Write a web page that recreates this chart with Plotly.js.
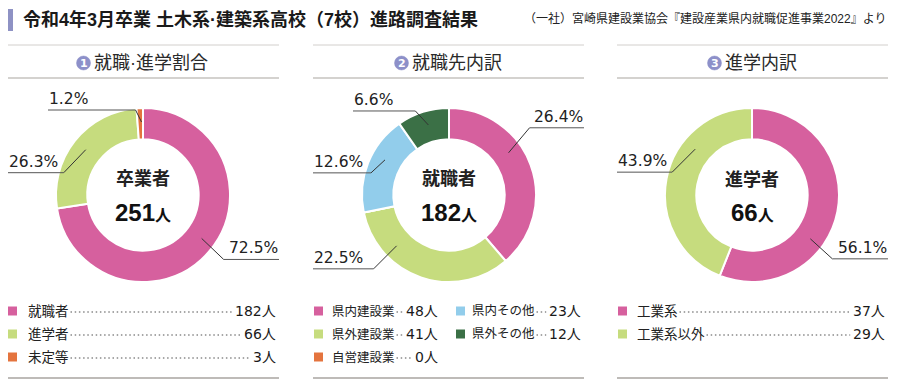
<!DOCTYPE html>
<html><head><meta charset="utf-8">
<script src="https://cdn.plot.ly/plotly-3.0.1.min.js"></script>
<style>html,body{margin:0;padding:0;background:#fff}#chart{width:900px;height:391px}</style>
</head><body><div id="chart"></div>
<script>
// ---- data ----
const mainTitle = '令和4年3月卒業 土木系·建築系高校（7校）進路調査結果';
const sourceNote = '（一社）宮崎県建設業協会『建設産業県内就職促進事業2022』より';
const panelTitles = ['就職·進学割合', '就職先内訳', '進学内訳'];
const panelNums = ['1', '2', '3'];
const centerTitles = ['卒業者', '就職者', '進学者'];
const centerTotals = [251, 182, 66];

const chart1Labels = ['就職者', '進学者', '未定等'];
const chart1Values = [182, 66, 3];
const chart1Pct = ['72.5%', '26.3%', '1.2%'];

const chart2Labels = ['県内建設業', '県外建設業', '自営建設業', '県内その他', '県外その他'];
const chart2Values = [48, 41, 0, 23, 12];
const chart2Pct = ['26.4%', '22.5%', '', '12.6%', '6.6%'];

const chart3Labels = ['工業系', '工業系以外'];
const chart3Values = [37, 29];
const chart3Pct = ['56.1%', '43.9%'];

// ---- styles / layout config ----
const PINK = '#d6609e', GREEN = '#c6dc7e', ORANGE = '#e4743e', LBLUE = '#92cdeb', DGREEN = '#3b7046';
const colors = [[PINK, GREEN, ORANGE], [PINK, GREEN, ORANGE, LBLUE, DGREEN], [PINK, GREEN]];
const FONT = "'Liberation Sans', 'Noto Sans CJK JP', sans-serif";
const NUMFONT = "'DejaVu Sans', 'Noto Sans CJK JP', sans-serif";
const W = 900, H = 391;
const fx = x => x / W, fy = y => 1 - y / H;

const panels = [{l: 8, r: 279, cx: 143, mark: 83.5}, {l: 313, r: 584, cx: 449, mark: 401.5}, {l: 617, r: 888, cx: 752, mark: 714.5}];
const CY = 195, R = 87, HOLE = 0.64, RS = 73, MR = 7;
const leaders = [
  [{nudge: -4, dx: 22, dy: 21, side: 'r'}, {nudge: 0, dx: -22, dy: 23, side: 'l'}, {nudge: 1, dx: -6, dy: -12, side: 'l', end: 48}],
  [{nudge: -15, dx: 21, dy: -25, side: 'r'}, {nudge: 27, dx: -23, dy: 23, side: 'l'}, null, {nudge: 7, dx: -14, dy: 13, side: 'l'}, {nudge: 1, dx: -13, dy: -14, side: 'l', end: 353}],
  [{nudge: 26, dx: 22, dy: 20, side: 'r'}, {nudge: 28, dx: -23, dy: 23, side: 'l'}]
];
const legendCfg = [
  {cols: [{sq: 8, tx: 26, vr: 278}], perCol: 3, fs: 13.5},
  {cols: [{sq: 314, tx: 330, vr: 440}, {sq: 456, tx: 470, vr: 583}], perCol: 3, fs: 12.5},
  {cols: [{sq: 618, tx: 635, vr: 887}], perCol: 3, fs: 13.5}
];
const legendRows = [311, 334, 357];
const VFS = 14;

const labelsAll = [chart1Labels, chart2Labels, chart3Labels];
const valuesAll = [chart1Values, chart2Values, chart3Values];
const pctAll = [chart1Pct, chart2Pct, chart3Pct];

const data = [], shapes = [], annotations = [];

// header
shapes.push({type: 'rect', xref: 'paper', yref: 'paper', x0: fx(8), x1: fx(13), y0: fy(9), y1: fy(31), fillcolor: '#8e92c4', line: {width: 0}});
annotations.push({xref: 'paper', yref: 'paper', x: fx(21), y: fy(20), xanchor: 'left', yanchor: 'middle', showarrow: false,
  text: '<b>' + mainTitle + '</b>', font: {family: FONT, size: 18, color: '#1a1a1a'}});
annotations.push({xref: 'paper', yref: 'paper', x: fx(888), y: fy(19), xanchor: 'right', yanchor: 'middle', showarrow: false,
  text: sourceNote, font: {family: FONT, size: 12, color: '#222'}});

panels.forEach((p, k) => {
  const labels = labelsAll[k], values = valuesAll[k], pct = pctAll[k];
  // pie
  data.push({
    type: 'pie', labels: labels, values: values, hole: HOLE, sort: false, direction: 'clockwise', rotation: 0,
    marker: {colors: colors[k], line: {color: '#fff', width: 2}},
    textinfo: 'none', hoverinfo: 'none', showlegend: false,
    domain: {x: [fx(p.cx - R), fx(p.cx + R)], y: [fy(CY + R), fy(CY - R)]}
  });
  // panel rules
  shapes.push({type: 'line', xref: 'paper', yref: 'paper', x0: fx(p.l), x1: fx(p.r), y0: fy(45), y1: fy(45), line: {color: '#d2cfcc', width: 1}});
  shapes.push({type: 'line', xref: 'paper', yref: 'paper', x0: fx(p.l), x1: fx(p.r), y0: fy(78), y1: fy(78), line: {color: '#a9a5a0', width: 1.2}});
  shapes.push({type: 'line', xref: 'paper', yref: 'paper', x0: fx(p.l), x1: fx(p.r), y0: fy(378), y1: fy(378), line: {color: '#a9a5a0', width: 1.5}});
  // panel title: circled number + text
  shapes.push({type: 'circle', xref: 'paper', yref: 'paper', x0: fx(p.mark - MR), x1: fx(p.mark + MR), y0: fy(63 + MR), y1: fy(63 - MR),
    fillcolor: '#8d90c9', line: {color: '#8d90c9', width: 0.5}});
  annotations.push({xref: 'paper', yref: 'paper', x: fx(p.mark), y: fy(63), xanchor: 'center', yanchor: 'middle', showarrow: false, borderpad: 0,
    text: '<b>' + panelNums[k] + '</b>', font: {family: "'DejaVu Sans', sans-serif", size: 11, color: '#fff'}});
  annotations.push({xref: 'paper', yref: 'paper', x: fx(p.mark + 8.5), y: fy(63), xanchor: 'left', yanchor: 'middle', showarrow: false,
    text: panelTitles[k], font: {family: FONT, size: 18, color: '#2a2a2a'}});
  // center text
  annotations.push({xref: 'paper', yref: 'paper', x: fx(p.cx), y: fy(179), xanchor: 'center', yanchor: 'middle', showarrow: false,
    text: '<b>' + centerTitles[k] + '</b>', font: {family: FONT, size: 18, color: '#222'}});
  annotations.push({xref: 'paper', yref: 'paper', x: fx(p.cx), y: fy(212), xanchor: 'center', yanchor: 'middle', showarrow: false,
    text: '<b>' + centerTotals[k] + '</b><span style="font-size:16px"><b>人</b></span>', font: {family: FONT, size: 24, color: '#111'}});

  // leaders
  const total = values.reduce((a, b) => a + b, 0);
  let cum = 0;
  values.forEach((v, i) => {
    const mid = (cum + v / 2) / total * 360;
    cum += v;
    const L = leaders[k][i];
    if (!L || v === 0) return;
    const a = (mid + L.nudge) * Math.PI / 180;
    const sx = p.cx + RS * Math.sin(a), sy = CY - RS * Math.cos(a);
    const ex = sx + L.dx, ey = sy + L.dy;
    const endX = L.end !== undefined ? L.end : (L.side === 'r' ? p.r : p.l);
    shapes.push({type: 'line', xref: 'paper', yref: 'paper', x0: fx(sx), y0: fy(sy), x1: fx(ex), y1: fy(ey), line: {color: '#333', width: 1}});
    shapes.push({type: 'line', xref: 'paper', yref: 'paper', x0: fx(ex), y0: fy(ey), x1: fx(endX), y1: fy(ey), line: {color: '#555', width: 1}});
    annotations.push({xref: 'paper', yref: 'paper', x: fx(endX), y: fy(ey - 1), xanchor: L.side === 'r' ? 'right' : 'left', yanchor: 'bottom',
      showarrow: false, borderpad: 0, text: pct[i], font: {family: NUMFONT, size: 15.5, color: '#222'}});
  });

  // legend
  const lc = legendCfg[k];
  labels.forEach((lab, i) => {
    const col = lc.cols[Math.floor(i / lc.perCol)];
    const y = legendRows[i % lc.perCol];
    shapes.push({type: 'rect', xref: 'paper', yref: 'paper', x0: fx(col.sq), x1: fx(col.sq + 9), y0: fy(y + 4.5), y1: fy(y - 4.5), fillcolor: colors[k][i], line: {width: 0}});
    annotations.push({xref: 'paper', yref: 'paper', x: fx(col.tx), y: fy(y), xanchor: 'left', yanchor: 'middle', showarrow: false,
      text: lab, font: {family: FONT, size: lc.fs, color: '#222'}});
    const vtxt = String(values[i]);
    annotations.push({xref: 'paper', yref: 'paper', x: fx(col.vr), y: fy(y), xanchor: 'right', yanchor: 'middle', showarrow: false,
      text: vtxt + '人', font: {family: NUMFONT, size: VFS, color: '#1a1a1a'}});
    const tEnd = col.tx + lab.length * lc.fs + 4;
    const vStart = col.vr - (vtxt.length * 0.636 * VFS + VFS) - 5;
    shapes.push({type: 'line', xref: 'paper', yref: 'paper', x0: fx(tEnd), x1: fx(vStart), y0: fy(y + 1), y1: fy(y + 1),
      line: {color: '#8a8a8a', width: 1.5, dash: '1.5px,2.7px'}});
  });
});

const layout = {
  width: W, height: H, margin: {l: 0, r: 0, t: 0, b: 0},
  paper_bgcolor: '#fff', plot_bgcolor: '#fff', showlegend: false,
  shapes: shapes, annotations: annotations, font: {family: FONT}
};
Plotly.newPlot('chart', data, layout, {staticPlot: true, displayModeBar: false});
</script></body></html>
